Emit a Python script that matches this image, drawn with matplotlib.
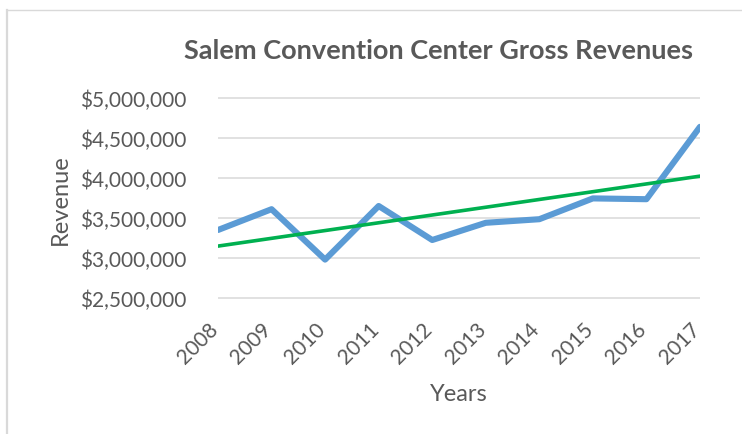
import numpy as np
import matplotlib
matplotlib.use("Agg")
import matplotlib.pyplot as plt
from matplotlib.lines import Line2D
from matplotlib.ticker import FuncFormatter
from matplotlib.transforms import ScaledTranslation

years = ["2008", "2009", "2010", "2011", "2012", "2013", "2014", "2015", "2016", "2017"]
revenue = [3350000, 3610000, 2980000, 3650000, 3225000, 3440000, 3485000, 3745000, 3735000, 4640000]
y_ticks = [2500000, 3000000, 3500000, 4000000, 4500000, 5000000]

title = "Salem Convention Center Gross Revenues"
xlabel = "Years"
ylabel = "Revenue"

TEXT = "#595959"
GRID = "#d9d9d9"
BLUE = "#5B9BD5"
GREEN = "#00B050"

W, H = 742, 435
fig = plt.figure(figsize=(W / 100, H / 100), dpi=100)
fig.patch.set_facecolor("white")

# axes placement (pixels)
left_px, right_px = 218, 700
ymin, ymax = 2450000, 5050000
px_per_unit = 40 / 500000
top_px = 99 - (ymax - 5000000) * px_per_unit
bot_px = 299 + (2500000 - ymin) * px_per_unit
ax = fig.add_axes([left_px / W, 1 - bot_px / H, (right_px - left_px) / W, (bot_px - top_px) / H])

x = np.arange(len(years))
ax.plot(x, revenue, color=BLUE, lw=4.4, solid_joinstyle="round", solid_capstyle="round", zorder=3)
coef = np.polyfit(x, revenue, 1)
ax.plot(x, np.polyval(coef, x), color=GREEN, lw=2.6, zorder=4)

ax.set_xlim(0, len(years) - 1)
ax.set_ylim(ymin, ymax)
ax.set_yticks(y_ticks)
ax.yaxis.set_major_formatter(FuncFormatter(lambda v, p: "${:,.0f}".format(v)))
ax.set_xticks(x)
ax.set_xticklabels(years, rotation=45, ha="right", va="top")
ax.grid(axis="y", color=GRID, lw=1.1)
ax.set_axisbelow(True)
for s in ax.spines.values():
    s.set_visible(False)
ax.tick_params(axis="both", length=0, colors=TEXT, labelsize=15)
ax.tick_params(axis="y", pad=23)
ax.tick_params(axis="x", pad=12)
shift = ScaledTranslation(4 / 100, 0, fig.dpi_scale_trans)
for lab in ax.get_xticklabels():
    lab.set_transform(lab.get_transform() + shift)
for lab in ax.get_xticklabels() + ax.get_yticklabels():
    lab.set_fontfamily("Lato")
    lab.set_color(TEXT)

fig.text(438 / W, 1 - 59 / H, title, ha="center", va="baseline", fontsize=19.5,
         fontweight="bold", color=TEXT, family="Lato")
fig.text(67 / W, 1 - 200 / H, ylabel, rotation=90, rotation_mode="anchor", ha="center",
         va="baseline", fontsize=17, color=TEXT, family="Lato")
fig.text(458.5 / W, 1 - 401.5 / H, xlabel, ha="center", va="baseline", fontsize=17,
         color=TEXT, family="Lato")

# chart border
fig.add_artist(Line2D([7 / W, 7 / W], [0, 1 - 10.5 / H], color=GRID, lw=1.6))
fig.add_artist(Line2D([7 / W, 1], [1 - 10.5 / H, 1 - 10.5 / H], color=GRID, lw=1.0))

fig.savefig("out.png", dpi=100)
